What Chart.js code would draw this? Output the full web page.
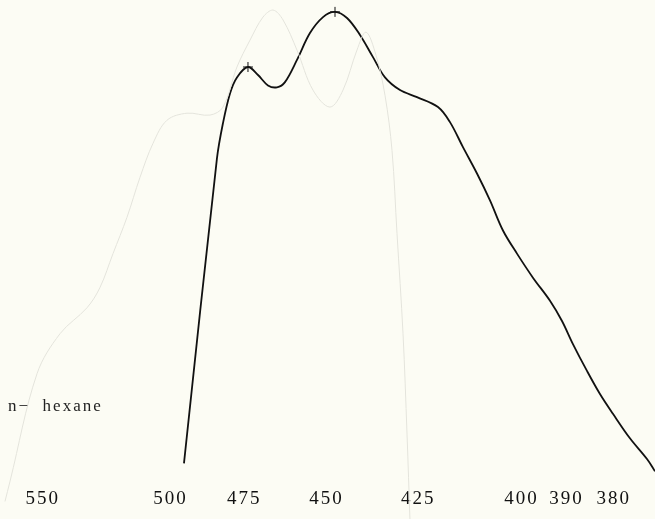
<!DOCTYPE html>
<html lang="en">
<head>
  <meta charset="UTF-8" />
  <title>n-hexane absorption spectrum</title>
  <script src="https://cdn.jsdelivr.net/npm/chart.js"></script>
  <style>
    body { margin: 0; background: #fcfcf4; }
    #wrap { position: relative; width: 655px; height: 519px; }
    #solvent {
      position: absolute;
      left: 8px;
      top: 396px;
      font-family: "Liberation Serif", "DejaVu Serif", serif;
      font-size: 17px;
      letter-spacing: 2px;
      color: #222;
      white-space: pre;
    }
  </style>
</head>
<body>
  <div id="wrap">
    <canvas id="chart" width="655" height="519"></canvas>
    <div id="solvent">n−  hexane</div>
  </div>

  <script>
    // x values are wavenumbers in 1000 cm-1, y is relative absorbance
    const waveLabels = [550, 500, 475, 450, 425, 400, 390, 380];

    const mainNu = [20.192, 20.662, 20.748, 20.848, 20.947, 21.104, 21.247, 21.389, 21.517,
      21.631, 21.802, 21.987, 22.173, 22.344, 22.515, 22.700, 22.885, 23.056, 23.270,
      23.512, 23.811, 23.982, 24.167, 24.367, 24.552, 24.737, 24.937, 25.164, 25.407,
      25.578, 25.734, 25.934, 26.119, 26.304, 26.546, 26.789, 26.903];
    const mainAbs = [0.038, 0.685, 0.760, 0.823, 0.857, 0.879, 0.862, 0.840, 0.836,
      0.847, 0.894, 0.951, 0.985, 0.996, 0.983, 0.947, 0.900, 0.857, 0.830,
      0.815, 0.794, 0.762, 0.709, 0.653, 0.596, 0.532, 0.483, 0.432, 0.383,
      0.340, 0.291, 0.234, 0.185, 0.143, 0.091, 0.047, 0.021];
    const peakNu = [21.104, 22.344];

    // faint trace showing through from the back of the page
    const ghostNu = [17.642, 17.714, 18.098, 18.426, 18.810, 18.995, 19.181, 19.380, 19.566, 19.751,
      19.950, 20.235, 20.563, 20.748, 20.947, 21.133, 21.318, 21.460, 21.603, 21.802,
      22.030, 22.272, 22.458, 22.657, 22.786, 22.928, 23.056, 23.156, 23.227, 23.313,
      23.370, 23.412];
    const ghostAbs = [-0.043, 0.000, 0.228, 0.313, 0.368, 0.411, 0.483, 0.560, 0.645, 0.717,
      0.766, 0.781, 0.777, 0.794, 0.879, 0.936, 0.985, 1.000, 0.979, 0.915,
      0.830, 0.794, 0.830, 0.915, 0.953, 0.904, 0.819, 0.702, 0.526, 0.313,
      0.100, -0.083];

    const toPoints = (xs, ys) => xs.map((x, i) => ({ x: x, y: ys[i] }));

    const spacingPlugin = {
      id: 'spacing',
      beforeDraw(chart) { chart.ctx.letterSpacing = '2px'; }
    };

    new Chart(document.getElementById('chart'), {
      type: 'line',
      data: {
        datasets: [
          {
            data: toPoints(ghostNu, ghostAbs),
            borderColor: '#e4e4dc',
            borderWidth: 1,
            pointRadius: 0,
            tension: 0.35,
            clip: false
          },
          {
            data: toPoints(mainNu, mainAbs),
            borderColor: '#111',
            borderWidth: 1.8,
            tension: 0.35,
            pointStyle: 'cross',
            pointRadius: ctx => peakNu.includes(mainNu[ctx.dataIndex]) ? 5 : 0,
            pointBorderColor: '#111',
            pointBorderWidth: 1,
            clip: false
          }
        ]
      },
      options: {
        responsive: false,
        animation: false,
        layout: { padding: { top: 10, bottom: 3, left: 0, right: 0 } },
        plugins: { legend: { display: false }, tooltip: { enabled: false } },
        scales: {
          x: {
            type: 'linear',
            min: 17.571,
            max: 26.903,
            grid: { display: false, drawTicks: false },
            border: { display: false },
            afterBuildTicks: scale => {
              scale.ticks = waveLabels.map(w => ({ value: 1e4 / w }));
            },
            ticks: {
              autoSkip: false,
              maxRotation: 0,
              padding: 6,
              color: '#111',
              font: { family: '"Liberation Serif", "DejaVu Serif", serif', size: 19 },
              callback: v => String(Math.round(1e4 / v))
            }
          },
          y: { display: false, min: 0, max: 1 }
        }
      },
      plugins: [spacingPlugin]
    });
  </script>
</body>
</html>
